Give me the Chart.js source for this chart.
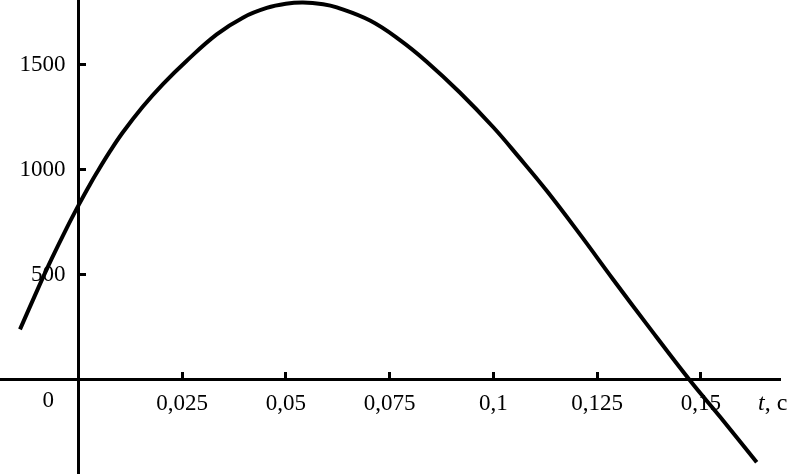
<!DOCTYPE html>
<html>
<head>
<meta charset="utf-8">
<script src="https://cdn.jsdelivr.net/npm/chart.js@4/dist/chart.umd.min.js"></script>
<style>
html,body{margin:0;padding:0;background:#fff;}
#wrap{width:795px;height:475px;}
canvas{display:block;}
</style>
</head>
<body>
<div id="wrap"><canvas id="c" width="795" height="475"></canvas></div>
<script>
// Time, s
const times = [-0.01405, -0.00964, -0.00641, -0.00280, 0.00017, 0.00281, 0.00427, 0.00747, 0.01070, 0.01552,
               0.02034, 0.02595, 0.03335, 0.03976, 0.04540, 0.05000, 0.05414, 0.05900, 0.06227, 0.07029,
               0.07751, 0.08395, 0.09193, 0.10000, 0.10602, 0.11287, 0.12089, 0.12892, 0.13696, 0.14740,
               0.15463, 0.16347];
// Curve values
const values = [239, 437, 576, 722, 835, 930, 980, 1083, 1178, 1301,
                1408, 1517, 1646, 1727, 1772, 1792, 1798, 1790, 1775, 1712,
                1619, 1516, 1369, 1203, 1064, 900, 692, 476, 264, -5,
                -178, -395];

const xTickValues = [0.025, 0.05, 0.075, 0.1, 0.125, 0.15];
const xTickLabels = ['0,025', '0,05', '0,075', '0,1', '0,125', '0,15'];
const yTickValues = [500, 1000, 1500];
const yTickLabels = ['500', '1000', '1500'];
const originLabel = '0';
const xAxisSymbol = 't';
const xAxisUnit = ', c';

const FONT = '"Liberation Serif", "Times New Roman", serif';
const X_MIN = -0.01887, X_MAX = 0.16908;
const Y_MIN = -446, Y_MAX = 1810;

function labelFor(vals, labels, v) {
  for (let i = 0; i < vals.length; i++) {
    if (Math.abs(vals[i] - v) < 1e-9 * Math.max(1, Math.abs(v))) return labels[i];
  }
  return '';
}

const extraText = {
  id: 'extraText',
  afterDraw(chart) {
    const ctx = chart.ctx;
    const xs = chart.scales.x, ys = chart.scales.y;
    const x0 = xs.getPixelForValue(0);
    const y0 = ys.getPixelForValue(0);
    ctx.save();
    ctx.fillStyle = '#000';
    ctx.textBaseline = 'middle';
    ctx.textAlign = 'center';
    ctx.font = '23px ' + FONT;
    ctx.fillText(originLabel, x0 - 30, y0 + 21);
    ctx.textAlign = 'left';
    ctx.font = 'italic 24px ' + FONT;
    const tx = chart.chartArea.right - 22;
    ctx.fillText(xAxisSymbol, tx, y0 + 24);
    const tw = ctx.measureText(xAxisSymbol).width;
    ctx.font = '24px ' + FONT;
    ctx.fillText(xAxisUnit, tx + tw, y0 + 24);
    ctx.restore();
  }
};

const yTicksFromArray = s => { s.ticks = yTickValues.map(v => ({ value: v })); };

new Chart(document.getElementById('c'), {
  type: 'line',
  data: {
    datasets: [{
      data: times.map((t, i) => ({ x: t, y: values[i] })),
      borderColor: '#000',
      borderWidth: 4,
      pointRadius: 0,
      fill: false,
      tension: 0.4,
      clip: false
    }]
  },
  options: {
    responsive: false,
    animation: false,
    devicePixelRatio: 1,
    layout: { padding: { top: 0, left: 0, right: 15, bottom: 2 } },
    plugins: { legend: { display: false }, tooltip: { enabled: false } },
    scales: {
      x: {
        type: 'linear',
        min: X_MIN,
        max: X_MAX,
        position: { y: 0 },
        afterBuildTicks: s => { s.ticks = xTickValues.map(v => ({ value: v })); },
        afterFit: s => { s.height = 0; s.paddingLeft = 0; s.paddingRight = 0; },
        grid: { drawOnChartArea: false, drawTicks: true, tickLength: -9, tickWidth: 3, tickColor: '#000' },
        border: { display: true, color: '#000', width: 3 },
        ticks: {
          autoSkip: false, maxRotation: 0, minRotation: 0,
          color: '#000', padding: 20,
          font: { family: FONT, size: 23 },
          callback: v => labelFor(xTickValues, xTickLabels, v)
        }
      },
      y: {
        type: 'linear',
        min: Y_MIN,
        max: Y_MAX,
        position: { x: 0 },
        afterBuildTicks: yTicksFromArray,
        afterFit: s => { s.width = 0; s.paddingTop = 0; s.paddingBottom = 0; },
        grid: { drawOnChartArea: false, drawTicks: true, tickLength: -9, tickWidth: 3, tickColor: '#000' },
        border: { display: true, color: '#000', width: 3 },
        ticks: { display: false }
      },
      yLabels: {
        type: 'linear',
        axis: 'y',
        min: Y_MIN,
        max: Y_MAX,
        position: { x: -0.0031 },
        afterBuildTicks: yTicksFromArray,
        afterFit: s => { s.width = 0; s.paddingTop = 0; s.paddingBottom = 0; },
        grid: { display: false, drawTicks: false },
        border: { display: false },
        ticks: {
          autoSkip: false,
          color: '#000',
          font: { family: FONT, size: 23 },
          callback: v => labelFor(yTickValues, yTickLabels, v)
        }
      }
    }
  },
  plugins: [extraText]
});
</script>
</body>
</html>
